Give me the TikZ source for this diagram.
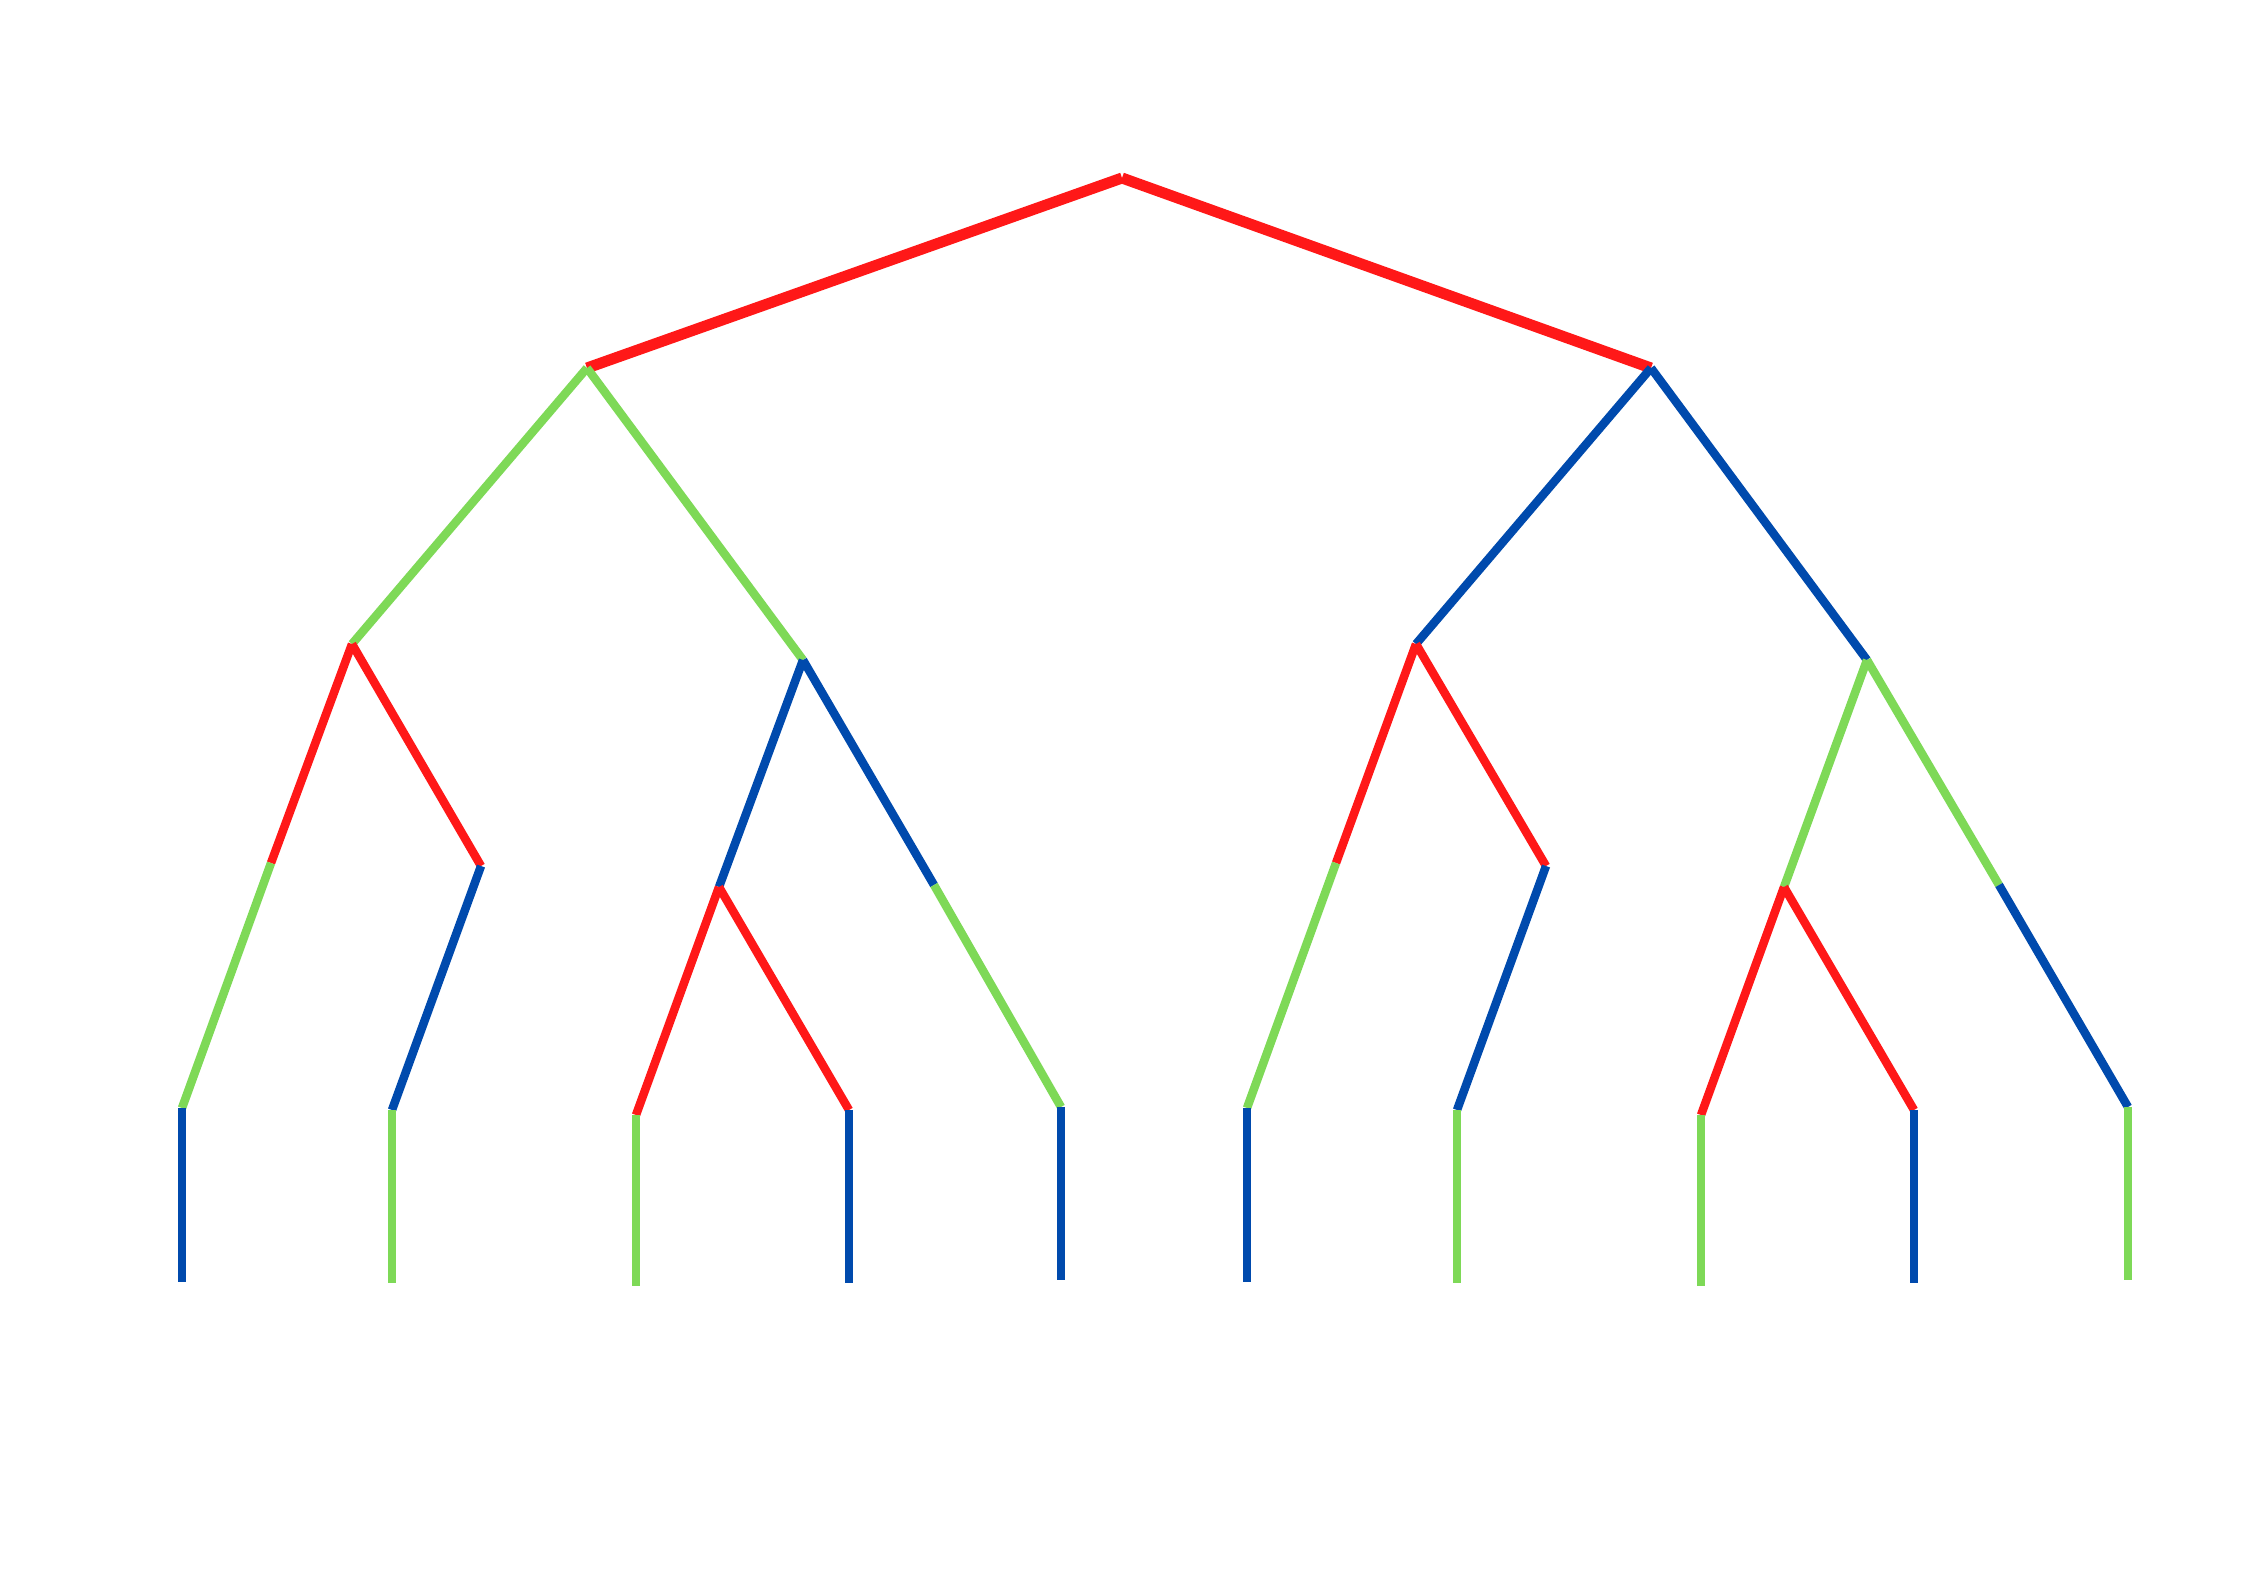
\documentclass[tikz,border=0pt]{standalone}
\usepackage{tikz}
\definecolor{tred}{RGB}{255,24,24}
\definecolor{tgreen}{RGB}{126,217,87}
\definecolor{tblue}{RGB}{0,74,173}
\begin{document}
\begin{tikzpicture}[x=1pt,y=-1pt,
  edge/.style={line width=8.5pt,line cap=butt},
  thick edge/.style={line width=11pt,line cap=butt},
  r/.style={edge,draw=tred},
  g/.style={edge,draw=tgreen},
  b/.style={edge,draw=tblue}]
\useasboundingbox[fill=white] (0,0) rectangle (2245,1587);
% internal points
\coordinate (R) at (1122,178);
\coordinate (L1) at (587,368);
\coordinate (R1) at (1651,368);
\coordinate (LL) at (352,644);
\coordinate (LR) at (803,660);
\coordinate (RL) at (1416,644);
\coordinate (RR) at (1867,660);
\coordinate (LLa) at (271,863);
\coordinate (LLb) at (481,866);
\coordinate (LRa) at (719,887);
\coordinate (LRb) at (934,885);
\coordinate (RLa) at (1336,863);
\coordinate (RLb) at (1546,866);
\coordinate (RRa) at (1784,887);
\coordinate (RRb) at (1999,885);
% leaf tops
\coordinate (A1) at (182,1108);
\coordinate (A2) at (392,1110);
\coordinate (A3) at (636,1115);
\coordinate (A4) at (849,1110);
\coordinate (A5) at (1061,1107);
\coordinate (A6) at (1247,1108);
\coordinate (A7) at (1457,1110);
\coordinate (A8) at (1701,1115);
\coordinate (A9) at (1914,1110);
\coordinate (A10) at (2128,1107);
% leaf bottoms
\coordinate (B1) at (182,1282);
\coordinate (B2) at (392,1283);
\coordinate (B3) at (636,1286);
\coordinate (B4) at (849,1283);
\coordinate (B5) at (1061,1280);
\coordinate (B6) at (1247,1282);
\coordinate (B7) at (1457,1283);
\coordinate (B8) at (1701,1286);
\coordinate (B9) at (1914,1283);
\coordinate (B10) at (2128,1280);
% root level
\draw[thick edge,draw=tred] (R) -- (L1);
\draw[thick edge,draw=tred] (R) -- (R1);
% second level
\draw[g] (L1) -- (LL);
\draw[g] (L1) -- (LR);
\draw[b] (R1) -- (RL);
\draw[b] (R1) -- (RR);
% left-left subtree
\draw[r] (LL) -- (LLa);
\draw[g] (LLa) -- (A1);
\draw[b] (A1) -- (B1);
\draw[r] (LL) -- (LLb);
\draw[b] (LLb) -- (A2);
\draw[g] (A2) -- (B2);
% left-right subtree
\draw[b] (LR) -- (LRa);
\draw[r] (LRa) -- (A3);
\draw[g] (A3) -- (B3);
\draw[r] (LRa) -- (A4);
\draw[b] (A4) -- (B4);
\draw[b] (LR) -- (LRb);
\draw[g] (LRb) -- (A5);
\draw[b] (A5) -- (B5);
% right-left subtree
\draw[r] (RL) -- (RLa);
\draw[g] (RLa) -- (A6);
\draw[b] (A6) -- (B6);
\draw[r] (RL) -- (RLb);
\draw[b] (RLb) -- (A7);
\draw[g] (A7) -- (B7);
% right-right subtree
\draw[g] (RR) -- (RRa);
\draw[r] (RRa) -- (A8);
\draw[g] (A8) -- (B8);
\draw[r] (RRa) -- (A9);
\draw[b] (A9) -- (B9);
\draw[g] (RR) -- (RRb);
\draw[b] (RRb) -- (A10);
\draw[g] (A10) -- (B10);
\end{tikzpicture}
\end{document}
